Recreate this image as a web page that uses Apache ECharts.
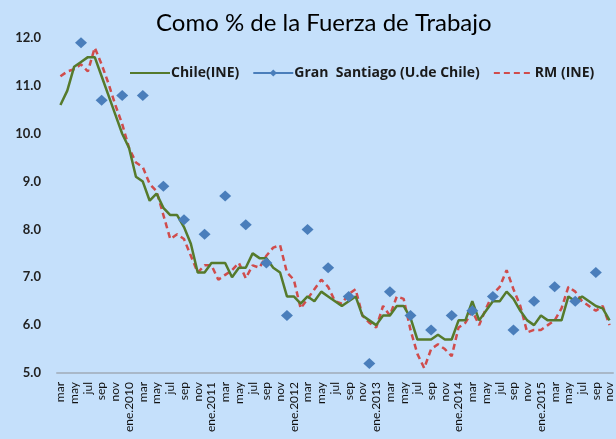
<!DOCTYPE html>
<html>
<head>
<meta charset="utf-8">
<title>Como % de la Fuerza de Trabajo</title>
<script src="https://cdn.jsdelivr.net/npm/echarts@6/dist/echarts.min.js"></script>
<style>
  html, body { margin: 0; padding: 0; background: #c5e0fb; }
  #chart { width: 616px; height: 439px; }
</style>
</head>
<body>
<div id="chart"></div>
<script>
// meses (mar 2009 - nov 2015), etiqueta cada dos meses
const months = [
  'mar', 'abr', 'may', 'jun', 'jul', 'ago', 'sep', 'oct', 'nov', 'dic',
  'ene.2010', 'feb', 'mar', 'abr', 'may', 'jun', 'jul', 'ago', 'sep', 'oct', 'nov', 'dic',
  'ene.2011', 'feb', 'mar', 'abr', 'may', 'jun', 'jul', 'ago', 'sep', 'oct', 'nov', 'dic',
  'ene.2012', 'feb', 'mar', 'abr', 'may', 'jun', 'jul', 'ago', 'sep', 'oct', 'nov', 'dic',
  'ene.2013', 'feb', 'mar', 'abr', 'may', 'jun', 'jul', 'ago', 'sep', 'oct', 'nov', 'dic',
  'ene.2014', 'feb', 'mar', 'abr', 'may', 'jun', 'jul', 'ago', 'sep', 'oct', 'nov', 'dic',
  'ene.2015', 'feb', 'mar', 'abr', 'may', 'jun', 'jul', 'ago', 'sep', 'oct', 'nov'
]

const chileINE = [
  10.6, 10.9, 11.4, 11.5, 11.6, 11.6, 11.2, 10.8, 10.4, 10.0,
  9.7, 9.1, 9.0, 8.6, 8.75, 8.45, 8.3, 8.3, 8.05, 7.7,
  7.1, 7.1, 7.3, 7.3, 7.3, 7.0, 7.2, 7.2, 7.5, 7.4,
  7.4, 7.2, 7.1, 6.6, 6.6, 6.45, 6.6, 6.5, 6.7, 6.6,
  6.5, 6.4, 6.5, 6.6, 6.2, 6.1, 6.0, 6.2, 6.2, 6.4,
  6.4, 6.15, 5.7, 5.7, 5.7, 5.8, 5.7, 5.7, 6.1, 6.1,
  6.5, 6.1, 6.3, 6.5, 6.5, 6.7, 6.55, 6.3, 6.1, 6.0,
  6.2, 6.1, 6.1, 6.1, 6.6, 6.5, 6.6, 6.5, 6.4, 6.35,
  6.1
]

// encuesta trimestral: solo mar, jun, sep, dic
const granSantiago = [
  null, null, null, 11.9, null, null, 10.7, null, null, 10.8,
  null, null, 10.8, null, null, 8.9, null, null, 8.2, null,
  null, 7.9, null, null, 8.7, null, null, 8.1, null, null,
  7.3, null, null, 6.2, null, null, 8.0, null, null, 7.2,
  null, null, 6.6, null, null, 5.2, null, null, 6.7, null,
  null, 6.2, null, null, 5.9, null, null, 6.2, null, null,
  6.3, null, null, 6.6, null, null, 5.9, null, null, 6.5,
  null, null, 6.8, null, null, 6.5, null, null, 7.1, null,
  null
]

const rmINE = [
  11.2, 11.3, 11.35, 11.45, 11.3, 11.8, 11.45, 11.05, 10.6, 10.2,
  9.7, 9.4, 9.3, 8.95, 8.8, 8.3, 7.8, 7.9, 7.8, 7.45,
  7.1, 7.25, 7.25, 6.95, 7.05, 7.15, 7.3, 6.98, 7.25, 7.2,
  7.45, 7.62, 7.67, 7.1, 6.95, 6.35, 6.55, 6.75, 6.95, 6.8,
  6.5, 6.45, 6.65, 6.75, 6.2, 6.05, 5.95, 6.4, 6.2, 6.6,
  6.55, 5.9, 5.4, 5.1, 5.5, 5.6, 5.5, 5.35, 5.95, 6.05,
  6.3, 6.0, 6.35, 6.65, 6.8, 7.15, 6.75, 6.4, 5.85, 5.9,
  5.9, 6.0, 6.1, 6.35, 6.8, 6.7, 6.5, 6.4, 6.3, 6.4,
  6.0
]

const chart = echarts.init(document.getElementById('chart'))

const option = {
  backgroundColor: '#c5e0fb',
  animation: false,
  textStyle: { fontFamily: 'Lato, "Open Sans", sans-serif' },
  title: {
    text: 'Como % de la Fuerza de Trabajo',
    left: 151,
    top: 6,
    textStyle: { fontSize: 24, fontWeight: 'normal', color: '#000', fontFamily: 'Lato' }
  },
  legend: {
    left: 124,
    top: 61,
    itemWidth: 40,
    itemHeight: 9,
    itemGap: 13,
    textStyle: {
      fontSize: 14,
      fontWeight: 'bold',
      color: '#1a1a1a',
      fontFamily: '"Open Sans"',
      padding: [0, 0, 0, -4]
    },
    data: [
      { name: 'Chile(INE)', itemStyle: { opacity: 0 } },
      { name: 'Gran  Santiago (U.de Chile)' },
      { name: 'RM (INE)', itemStyle: { opacity: 0 } }
    ]
  },
  grid: {
    left: 57,
    right: 3,
    top: 38,
    bottom: 66
  },
  xAxis: {
    type: 'category',
    data: months,
    boundaryGap: true,
    axisLine: { lineStyle: { color: '#a9b8c8', width: 2 } },
    axisTick: { show: false },
    axisLabel: {
      interval: 1,
      rotate: 90,
      margin: 9,
      fontSize: 12,
      color: '#111'
    }
  },
  yAxis: {
    type: 'value',
    min: 5,
    max: 12,
    interval: 1,
    axisLine: { show: false },
    axisTick: { show: false },
    splitLine: { show: false },
    axisLabel: {
      margin: 16,
      fontSize: 13,
      fontWeight: 'bold',
      color: '#222',
      formatter: v => v.toFixed(1)
    }
  },
  series: [
    {
      name: 'Chile(INE)',
      type: 'line',
      data: chileINE,
      symbol: 'none',
      lineStyle: { color: '#557a2c', width: 2.5 },
      itemStyle: { color: '#557a2c' },
      z: 3
    },
    {
      name: 'Gran  Santiago (U.de Chile)',
      type: 'line',
      data: granSantiago,
      connectNulls: false,
      showAllSymbol: true,
      symbol: 'diamond',
      symbolSize: [12, 11],
      lineStyle: { color: '#4a7ebb', width: 2.5 },
      itemStyle: { color: '#4a7ebb' },
      z: 4
    },
    {
      name: 'RM (INE)',
      type: 'line',
      data: rmINE,
      symbol: 'none',
      lineStyle: { color: '#d04c4c', width: 2.5, type: [6, 4] },
      itemStyle: { color: '#d04c4c' },
      z: 2
    }
  ]
}

chart.setOption(option)
</script>
</body>
</html>
